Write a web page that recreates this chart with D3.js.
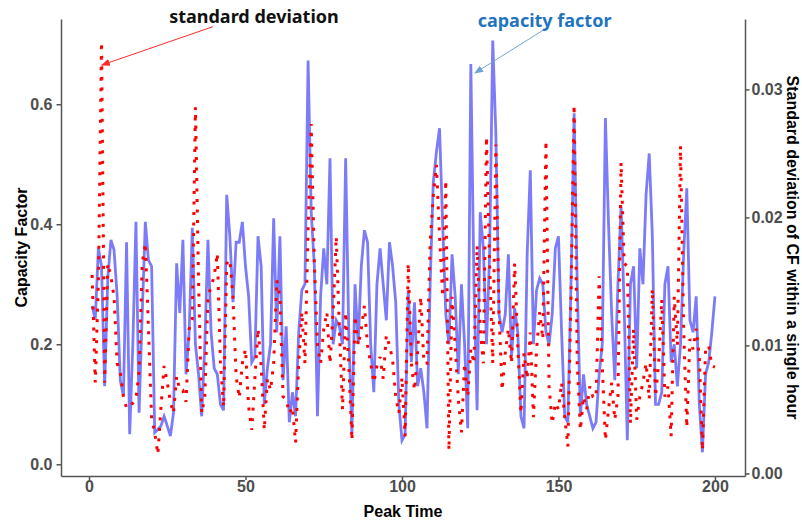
<!DOCTYPE html>
<html>
<head>
<meta charset="utf-8">
<script src="https://d3js.org/d3.v7.min.js"></script>
<style>
  body { margin: 0; background: #fff; }
  .axis text { font-family: "Liberation Sans", Arial, sans-serif; font-weight: bold; font-size: 16px; fill: #4d4d4d; }
  .axis path, .axis line { stroke: #555; stroke-width: 1.5; }
  .title { font-family: "Liberation Sans", Arial, sans-serif; font-weight: bold; font-size: 16px; fill: #000; }
  .note { font-family: "Noto Sans", sans-serif; font-weight: bold; font-size: 18px; }
</style>
</head>
<body>
<div id="chart"></div>
<script>
// Peak index (x axis)
const peakTime = [
  1,2,3,4,5,6,7,8,9,10,11,12,13,14,15,16,17,18,19,20,
  21,22,23,24,25,26,27,28,29,30,31,32,33,34,35,36,37,38,39,40,
  41,42,43,44,45,46,47,48,49,50,51,52,53,54,55,56,57,58,59,60,
  61,62,63,64,65,66,67,68,69,70,71,72,73,74,75,76,77,78,79,80,
  81,82,83,84,85,86,87,88,89,90,91,92,93,94,95,96,97,98,99,100,
  101,102,103,104,105,106,107,108,109,110,111,112,113,114,115,116,117,118,119,120,
  121,122,123,124,125,126,127,128,129,130,131,132,133,134,135,136,137,138,139,140,
  141,142,143,144,145,146,147,148,149,150,151,152,153,154,155,156,157,158,159,160,
  161,162,163,164,165,166,167,168,169,170,171,172,173,174,175,176,177,178,179,180,
  181,182,183,184,185,186,187,188,189,190,191,192,193,194,195,196,197,198,199,200
];

// Capacity factor (left axis)
const capacityFactor = [
  0.264,0.241,0.36,0.33,0.13,0.31,0.374,0.357,0.28,0.14,
  0.114,0.37,0.05,0.2,0.404,0.086,0.25,0.404,0.34,0.33,
  0.053,0.058,0.064,0.08,0.064,0.047,0.086,0.335,0.252,0.374,
  0.15,0.22,0.394,0.2,0.15,0.08,0.2,0.374,0.22,0.16,
  0.15,0.10,0.09,0.449,0.38,0.27,0.37,0.37,0.404,0.33,
  0.28,0.17,0.18,0.38,0.33,0.1,0.16,0.2,0.41,0.22,
  0.38,0.14,0.23,0.07,0.12,0.08,0.22,0.29,0.3,0.673,
  0.42,0.33,0.08,0.28,0.36,0.3,0.51,0.2,0.24,0.23,
  0.2,0.51,0.22,0.05,0.3,0.2,0.33,0.39,0.37,0.2,
  0.12,0.3,0.36,0.3,0.24,0.37,0.33,0.27,0.1,0.04,
  0.05,0.29,0.17,0.27,0.13,0.16,0.12,0.06,0.3,0.47,
  0.52,0.56,0.4,0.25,0.2,0.35,0.28,0.15,0.3,0.2,
  0.06,0.667,0.3,0.09,0.42,0.36,0.2,0.35,0.706,0.55,
  0.25,0.22,0.25,0.35,0.18,0.26,0.22,0.08,0.06,0.35,
  0.49,0.2,0.29,0.31,0.3,0.22,0.2,0.25,0.36,0.38,
  0.22,0.08,0.07,0.3,0.585,0.3,0.08,0.15,0.1,0.08,
  0.06,0.07,0.15,0.2,0.577,0.4,0.25,0.14,0.3,0.43,
  0.26,0.04,0.3,0.33,0.16,0.36,0.3,0.45,0.518,0.38,
  0.1,0.1,0.12,0.3,0.33,0.17,0.2,0.13,0.2,0.35,
  0.46,0.24,0.22,0.28,0.1,0.02,0.15,0.17,0.22,0.28
];

// Standard deviation of CF within a single hour (right axis)
const cfStdDev = [
  0.0155,0.0071,0.015,0.0337,0.0071,0.0164,0.0154,0.0138,0.0086,0.0079,
  0.006,0.0051,0.0052,0.0055,0.0058,0.008,0.0164,0.018,0.0113,0.0043,
  0.0032,0.0015,0.0052,0.0084,0.0071,0.0056,0.0047,0.0076,0.0065,0.0065,
  0.0056,0.0113,0.012,0.0286,0.0151,0.0047,0.006,0.0138,0.0146,0.0154,
  0.0172,0.0086,0.0052,0.0164,0.0167,0.0138,0.0076,0.0059,0.0086,0.0097,
  0.0052,0.0034,0.0074,0.0113,0.0084,0.0034,0.0074,0.0065,0.0086,0.0151,
  0.0138,0.006,0.0058,0.0047,0.0052,0.0024,0.0086,0.0126,0.0086,0.0191,
  0.0273,0.0164,0.01,0.0086,0.0113,0.0126,0.0086,0.0126,0.0185,0.0113,
  0.005,0.0126,0.0086,0.0026,0.0123,0.01,0.0113,0.0131,0.01,0.0086,
  0.0071,0.0084,0.0091,0.0074,0.0108,0.01,0.0089,0.006,0.0047,0.0075,
  0.0029,0.0164,0.0086,0.0065,0.0095,0.0138,0.0086,0.0086,0.018,0.0217,
  0.0241,0.0185,0.0138,0.0229,0.0018,0.0138,0.01,0.0058,0.0032,0.0086,
  0.006,0.0097,0.0086,0.0178,0.0113,0.0086,0.0263,0.0164,0.0086,0.0257,
  0.0126,0.0065,0.0094,0.0113,0.0086,0.0164,0.01,0.0047,0.0094,0.0074,
  0.011,0.0044,0.0097,0.0126,0.0105,0.026,0.0068,0.0039,0.0055,0.005,
  0.0071,0.0044,0.0021,0.0138,0.0288,0.0086,0.0034,0.006,0.005,0.0068,
  0.006,0.0059,0.0154,0.0084,0.0026,0.005,0.0071,0.0042,0.006,0.0243,
  0.0164,0.0162,0.0039,0.0113,0.0042,0.006,0.0071,0.0086,0.0058,0.0144,
  0.006,0.0086,0.0136,0.006,0.0068,0.0029,0.0138,0.01,0.0256,0.0113,
  0.0036,0.0105,0.0097,0.0113,0.0091,0.0018,0.0097,0.01,0.0084,0.0083
];

// Tick values
const xTicks = [0, 50, 100, 150, 200];
const cfTicks = [0.0, 0.2, 0.4, 0.6];
const sdTicks = [0.00, 0.01, 0.02, 0.03];

// Annotation arrows: tip and tail in data units
const sdNote = { label: "standard deviation", tip: [4.06, 0.0319], tail: [39.6, 0.0349] };
const cfNote = { label: "capacity factor", tip: [123.3, 0.652], tail: [146.2, 0.727] };

// Set the size of the chart
const width = 802;
const height = 520;
const margin = { top: 19, right: 57, bottom: 44, left: 61 };
const innerW = width - margin.left - margin.right;
const innerH = height - margin.top - margin.bottom;

const svg = d3.select("#chart")
    .append("svg")
    .attr("width", width)
    .attr("height", height);

const g = svg.append("g")
    .attr("transform", `translate(${margin.left},${margin.top})`);

// Scales
const x = d3.scaleLinear().domain([-8.95, 209.6]).range([0, innerW]);
const yCF = d3.scaleLinear().domain([-0.0195, 0.742]).range([innerH, 0]);
const ySD = d3.scaleLinear().domain([-0.0002, 0.0355]).range([innerH, 0]);

const rows = peakTime.map((t, i) => ({ t: t, cf: capacityFactor[i], sd: cfStdDev[i] }));

// Capacity factor line
g.append("path")
    .datum(rows)
    .attr("fill", "none")
    .attr("stroke", "#7c7cf8")
    .attr("stroke-width", 2.8)
    .attr("stroke-linejoin", "miter")
    .attr("d", d3.line().x(d => x(d.t)).y(d => yCF(d.cf)));

// Standard deviation line (dotted)
g.append("path")
    .datum(rows)
    .attr("fill", "none")
    .attr("stroke", "#ff0000")
    .attr("stroke-width", 3)
    .attr("stroke-dasharray", "3,7.5")
    .attr("d", d3.line().x(d => x(d.t)).y(d => ySD(d.sd)));

// Axes
g.append("g")
    .attr("class", "axis")
    .attr("transform", `translate(0,${innerH})`)
    .call(d3.axisBottom(x).tickValues(xTicks).tickSize(4).tickSizeOuter(0).tickPadding(1));

g.append("g")
    .attr("class", "axis")
    .call(d3.axisLeft(yCF).tickValues(cfTicks).tickFormat(d3.format(".1f")).tickSize(4.5).tickSizeOuter(0).tickPadding(4));

g.append("g")
    .attr("class", "axis")
    .attr("transform", `translate(${innerW},0)`)
    .call(d3.axisRight(ySD).tickValues(sdTicks).tickFormat(d3.format(".2f")).tickSize(4.5).tickSizeOuter(0).tickPadding(2));

// Axis titles
svg.append("text")
    .attr("class", "title")
    .attr("text-anchor", "middle")
    .attr("x", margin.left + innerW / 2)
    .attr("y", 517)
    .text("Peak Time");

svg.append("text")
    .attr("class", "title")
    .attr("text-anchor", "middle")
    .attr("transform", `translate(27,${margin.top + innerH / 2}) rotate(-90)`)
    .text("Capacity Factor");

svg.append("text")
    .attr("class", "title")
    .attr("text-anchor", "middle")
    .attr("transform", `translate(787,${margin.top + innerH / 2}) rotate(90)`)
    .text("Standard deviation of CF within a single hour");

// Arrow markers
const defs = svg.append("defs");
[["arrowRed", "#ff2a2a"], ["arrowBlue", "#6fa3d6"]].forEach(([id, color]) => {
    defs.append("marker")
        .attr("id", id)
        .attr("viewBox", "0 -5 10 10")
        .attr("refX", 9)
        .attr("refY", 0)
        .attr("markerWidth", 9)
        .attr("markerHeight", 9)
        .attr("markerUnits", "userSpaceOnUse")
        .attr("orient", "auto")
        .append("path")
        .attr("d", "M0,-4L10,0L0,4Z")
        .attr("fill", color);
});

// Annotations
g.append("line")
    .attr("x1", x(sdNote.tail[0])).attr("y1", ySD(sdNote.tail[1]))
    .attr("x2", x(sdNote.tip[0])).attr("y2", ySD(sdNote.tip[1]))
    .attr("stroke", "#ff2a2a")
    .attr("stroke-width", 1)
    .attr("marker-end", "url(#arrowRed)");

g.append("text")
    .attr("class", "note")
    .attr("text-anchor", "middle")
    .attr("x", x(sdNote.tail[0]) + 41)
    .attr("y", ySD(sdNote.tail[1]) - 3.5)
    .attr("fill", "#111")
    .text(sdNote.label);

g.append("line")
    .attr("x1", x(cfNote.tail[0])).attr("y1", yCF(cfNote.tail[1]))
    .attr("x2", x(cfNote.tip[0])).attr("y2", yCF(cfNote.tip[1]))
    .attr("stroke", "#6fa3d6")
    .attr("stroke-width", 1)
    .attr("marker-end", "url(#arrowBlue)");

g.append("text")
    .attr("class", "note")
    .attr("text-anchor", "middle")
    .attr("x", x(cfNote.tail[0]) - 2)
    .attr("y", yCF(cfNote.tail[1]) - 1)
    .attr("fill", "#1f74c0")
    .text(cfNote.label);
</script>
</body>
</html>
